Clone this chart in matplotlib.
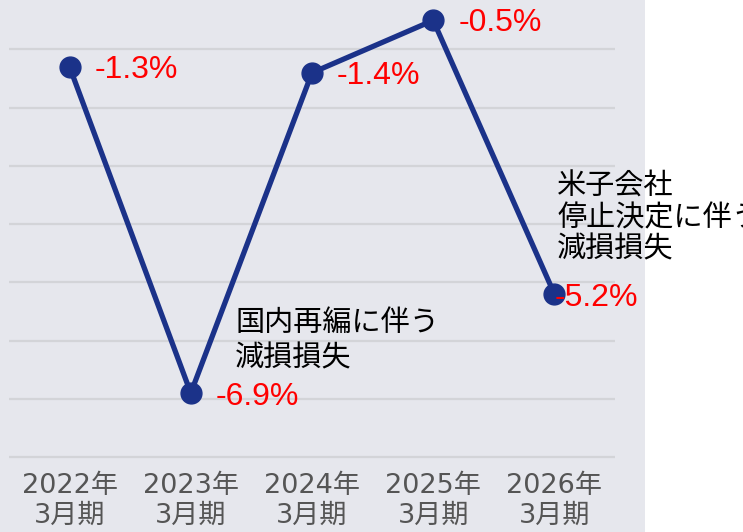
import matplotlib
matplotlib.use('Agg')
from matplotlib import pyplot as plt
from matplotlib.patches import Rectangle


plt.rcParams['font.family'] = ['DejaVu Sans', 'Noto Sans CJK JP']

periods = ['2022年\n3月期', '2023年\n3月期', '2024年\n3月期', '2025年\n3月期', '2026年\n3月期']
margin  = [-1.3, -6.9, -1.4, -0.5, -5.2]
labels  = ['-1.3%', '-6.9%', '-1.4%', '-0.5%', '-5.2%']
notes   = {1: '国内再編に伴う\n減損損失', 4: '米子会社\n停止決定に伴う\n減損損失'}

bg      = '#E6E7ED'
navy    = '#1B3289'

fig = plt.figure(figsize=(7.43, 5.32), dpi=100, facecolor='white')
fig.patches.append(Rectangle((0, 0), 645/743, 1, transform=fig.transFigure,
                             facecolor=bg, edgecolor='none', zorder=-10))

ax = fig.add_axes([9/743, 1 - 460/532, 606/743, 460/532])
ax.set_facecolor(bg)
x = range(len(periods))
ax.plot(x, margin, color=navy, lw=3.8, marker='o', ms=15, zorder=3, clip_on=False)

ax.set_xlim(-0.5, 4.5)
ax.set_ylim(-8.05, -0.15)
ax.set_yticks([-1, -2, -3, -4, -5, -6, -7, -8])
ax.yaxis.grid(True, color='#D3D4D8', lw=1.6)
ax.set_axisbelow(True)
ax.tick_params(left=False, labelleft=False, bottom=False, pad=6)
ax.set_xticks(list(x))
ax.set_xticklabels(periods, fontsize=19.5, color='#555555', linespacing=1.2)
for s in ax.spines.values():
    s.set_visible(False)

# value labels
offsets = [(18, -2.5), (18, -2.5), (18, -2.5), (18, -2), (0, -2.5)]
for i, (lab, off) in enumerate(zip(labels, offsets)):
    ax.annotate(lab, (i, margin[i]), xytext=off, textcoords='offset points',
                ha='left', va='center', color='#FF0000', fontsize=23,
                family='Liberation Sans', zorder=4, annotation_clip=False)

# notes
note_off = {1: (32, 14), 4: (2, 21)}
note_ls  = {1: 1.23, 4: 1.08}
for i, txt in notes.items():
    ax.annotate(txt, (i, margin[i]), xytext=note_off[i], textcoords='offset points',
                ha='left', va='bottom', color='black', fontsize=21,
                family='Noto Sans CJK JP', linespacing=note_ls[i], annotation_clip=False)

fig.savefig('out.png', dpi=100, facecolor='white')
